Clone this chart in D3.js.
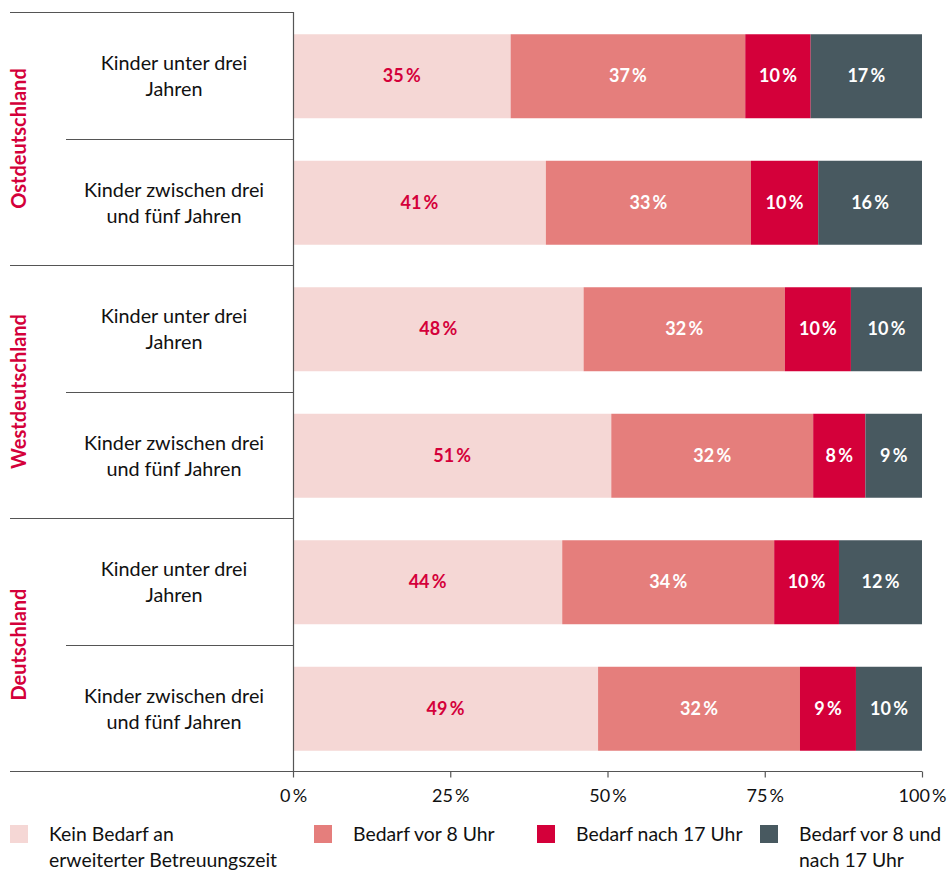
<!DOCTYPE html>
<html>
<head>
<meta charset="utf-8">
<script src="https://cdn.jsdelivr.net/npm/d3@7"></script>
<style>
  body { margin: 0; background: #fff; }
  svg text { font-family: Lato, "Open Sans", sans-serif; }
</style>
</head>
<body>
<div id="chart"></div>
<script>
const groups = ['Ostdeutschland', 'Westdeutschland', 'Deutschland']
const ages = [['Kinder unter drei', 'Jahren'], ['Kinder zwischen drei', 'und fünf Jahren']]
const seriesNames = [
  ['Kein Bedarf an', 'erweiterter Betreuungszeit'],
  ['Bedarf vor 8 Uhr'],
  ['Bedarf nach 17 Uhr'],
  ['Bedarf vor 8 und', 'nach 17 Uhr']
]
const colors = ['#f5d7d5', '#e57e7c', '#d4003a', '#485960']
const labelColors = ['#d4003a', '#fff', '#fff', '#fff']

// bar widths (percent)
const values = [
  [34.6, 37.3, 10.4, 17.7],
  [40.2, 32.6, 10.7, 16.5],
  [46.2, 32.0, 10.5, 11.3],
  [50.6, 32.1, 8.3, 9.0],
  [42.8, 33.7, 10.3, 13.2],
  [48.5, 32.1, 8.9, 10.5]
]
// printed labels
const labels = [
  [35, 37, 10, 17],
  [41, 33, 10, 16],
  [48, 32, 10, 10],
  [51, 32, 8, 9],
  [44, 34, 10, 12],
  [49, 32, 9, 10]
]
const ticks = [0, 25, 50, 75, 100]

const width = 952, height = 875
const yTop = 12, yBottom = 771, x0 = 293, x1 = 922

const svg = d3.select('#chart').append('svg')
  .attr('width', width)
  .attr('height', height)

const x = d3.scaleLinear().domain([0, 100]).range([x0, x1])
const rowIds = d3.range(values.length)
const y = d3.scaleBand().domain(rowIds).range([yTop, yBottom]).paddingInner(0.336).paddingOuter(0.168)
const g = d3.scaleBand().domain(groups).range([yTop, yBottom])

// stacked bars
const rows = svg.append('g').selectAll('g')
  .data(values)
  .join('g')
  .attr('transform', (d, i) => 'translate(0,' + (y(i) + 1) + ')')

rows.each(function(row, i) {
  let acc = 0
  const segs = row.map((v, k) => {
    const s = { k, start: acc, end: acc + v, label: labels[i][k] }
    acc += v
    return s
  })
  const sel = d3.select(this)
  sel.selectAll('rect')
    .data(segs)
    .join('rect')
    .attr('x', d => x(d.start))
    .attr('width', d => x(d.end) - x(d.start))
    .attr('y', 0)
    .attr('height', y.bandwidth())
    .attr('fill', d => colors[d.k])
  sel.selectAll('text')
    .data(segs)
    .join('text')
    .attr('x', d => (x(d.start) + x(d.end)) / 2)
    .attr('y', y.bandwidth() / 2 + 6)
    .attr('text-anchor', 'middle')
    .attr('font-size', 18)
    .attr('font-weight', 'bold')
    .attr('fill', d => labelColors[d.k])
    .text(d => d.label + '\u2009%')
})

// row separators
const lineColor = '#555'
svg.append('g').selectAll('line')
  .data(d3.range(values.length + 1))
  .join('line')
  .attr('x1', d => d % 2 === 0 ? 10 : 66)
  .attr('x2', x0)
  .attr('y1', d => Math.round(yTop + d * y.step()) + 0.5)
  .attr('y2', d => Math.round(yTop + d * y.step()) + 0.5)
  .attr('stroke', lineColor)
  .attr('stroke-width', 1.2)

// category labels
rowIds.forEach(i => {
  const cy = yTop + (i + 0.5) * y.step()
  svg.append('text')
    .attr('x', 175)
    .attr('y', cy)
    .attr('text-anchor', 'middle')
    .attr('font-size', 19.8)
    .attr('fill', '#111')
    .selectAll('tspan')
    .data(ages[i % 2])
    .join('tspan')
    .attr('x', 174)
    .attr('dy', (d, j) => j === 0 ? -5 : 26)
    .text(d => d)
})

// group labels
groups.forEach(name => {
  const cy = g(name) + g.bandwidth() / 2
  svg.append('text')
    .attr('transform', 'translate(26,' + cy + ') rotate(-90)')
    .attr('text-anchor', 'middle')
    .attr('font-size', 20)
    .attr('font-weight', 'bold')
    .attr('fill', '#d4003a')
    .text(name)
})

// axes
svg.append('line')
  .attr('x1', x0 + 0.5).attr('x2', x0 + 0.5)
  .attr('y1', yTop).attr('y2', yBottom)
  .attr('stroke', lineColor).attr('stroke-width', 1.2)

const axis = svg.append('g')
  .attr('transform', 'translate(0,' + (yBottom + 0.5) + ')')
  .call(d3.axisBottom(x).tickValues(ticks).tickSize(6).tickSizeOuter(0).tickFormat(d => d + '\u2009%'))
axis.select('.domain').remove()
axis.selectAll('.tick line').attr('stroke', lineColor).attr('stroke-width', 1.2)
axis.selectAll('.tick text')
  .attr('font-size', 18)
  .attr('fill', '#111')
  .attr('dy', '1.2em')
  .style('font-family', 'Lato, "Open Sans", sans-serif')

svg.append('line')
  .attr('x1', x0).attr('x2', x1)
  .attr('y1', yBottom + 0.5).attr('y2', yBottom + 0.5)
  .attr('stroke', lineColor).attr('stroke-width', 1.2)

// legend
const legendX = [10, 314, 537, 760]
const legend = svg.append('g').attr('transform', 'translate(0,825)')
seriesNames.forEach((name, k) => {
  legend.append('rect')
    .attr('x', legendX[k]).attr('y', 0)
    .attr('width', 18).attr('height', 18)
    .attr('fill', colors[k])
  legend.append('text')
    .attr('font-size', 19.4)
    .attr('fill', '#111')
    .selectAll('tspan')
    .data(name)
    .join('tspan')
    .attr('x', legendX[k] + 39)
    .attr('y', (d, j) => 16 + j * 26)
    .text(d => d)
})
</script>
</body>
</html>
